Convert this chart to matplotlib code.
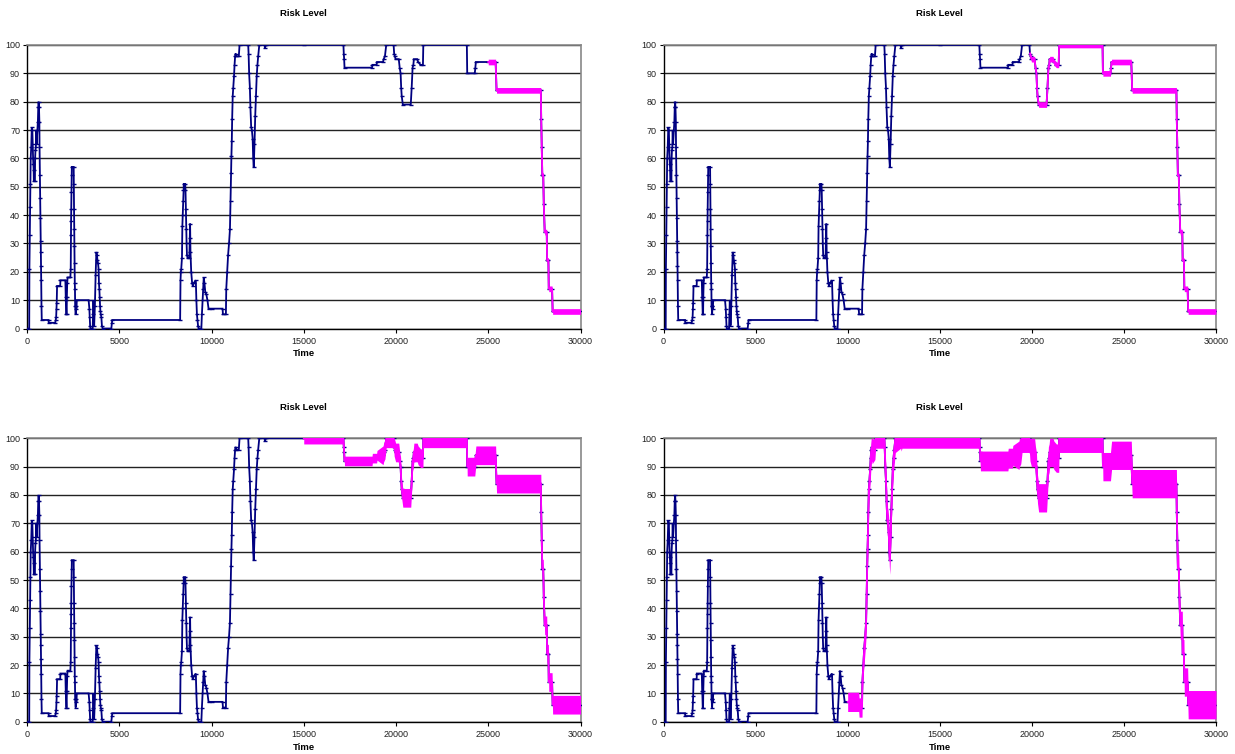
import numpy as np
import matplotlib
matplotlib.use("Agg")
import matplotlib.pyplot as plt

plt.rcParams['font.family'] = ['Liberation Sans', 'DejaVu Sans']

# ---------------- data ----------------
time = [0, 120, 130, 150, 165, 180, 200, 230, 260, 290, 310, 330, 345, 360, 370, 430, 440, 460, 480,
        500, 520, 560, 590, 610, 630, 650, 670, 680, 700, 715, 730, 740, 750, 760, 770, 785, 800,
        1170, 1180, 1530, 1560, 1580, 1600, 1610, 1630, 1800, 1810, 2080, 2100, 2110, 2130, 2150,
        2160, 2180, 2200, 2350, 2370, 2380, 2390, 2400, 2410, 2420, 2430, 2530, 2540, 2550, 2560,
        2570, 2580, 2590, 2600, 2610, 2640, 2660, 2680, 2700, 3340, 3380, 3400, 3420, 3440, 3560,
        3580, 3600, 3640, 3680, 3720, 3760, 3790, 3820, 3850, 3880, 3900, 3920, 3940, 3960, 3980,
        4000, 4030, 4060, 4100, 4570, 4600, 4620, 8300, 8320, 8340, 8360, 8400, 8420, 8440, 8460,
        8480, 8500, 8570, 8590, 8610, 8630, 8650, 8670, 8700, 8800, 8820, 8840, 8860, 8900, 8950,
        8990, 9030, 9150, 9180, 9210, 9240, 9270, 9300, 9450, 9480, 9520, 9550, 9580, 9620, 9660,
        9720, 9780, 9840, 10000, 10600, 10620, 10780, 10800, 10850, 10900, 10950, 11000, 11030,
        11060, 11080, 11100, 11120, 11150, 11180, 11220, 11250, 11280, 11310, 11330, 11480, 11520,
        11990, 12010, 12040, 12080, 12110, 12150, 12190, 12230, 12260, 12290, 12330, 12370, 12410,
        12450, 12490, 12530, 12590, 12880, 12900, 12950, 15000, 17150, 17170, 17190, 17210, 18700,
        18720, 18950, 18970, 19300, 19330, 19400, 19470, 19870, 19900, 19940, 19980, 20150, 20200,
        20250, 20280, 20310, 20370, 20800, 20850, 20900, 20940, 20970, 21150, 21200, 21330, 21460,
        21480, 23840, 23860, 24270, 24300, 24330, 25000, 25400, 25450, 27850, 27870, 27900, 27930,
        27980, 28010, 28060, 28170, 28190, 28260, 28280, 28460, 28490, 30000]
risk = [0, 0, 21, 33, 43, 51, 60, 64, 71, 70, 65, 60, 58, 56, 52, 52, 60, 63, 64,
        70, 65, 70, 73, 78, 80, 78, 73, 64, 54, 46, 39, 31, 27, 22, 17, 8, 3,
        3, 2, 2, 3, 4, 7, 9, 15, 15, 17, 17, 11, 10, 5, 5,
        11, 16, 18, 18, 21, 33, 38, 42, 48, 54, 57, 57, 51, 42, 35,
        29, 23, 16, 14, 8, 5, 8, 7, 10, 10, 7, 4, 1, 0, 0,
        5, 10, 1, 8, 19, 27, 26, 24, 23, 21, 16, 14, 11, 8, 6,
        5, 4, 1, 0, 0, 2, 3, 3, 17, 20, 21, 25, 36, 40, 45,
        49, 51, 51, 49, 42, 35, 30, 26, 25, 25, 32, 37, 27, 20, 16,
        15, 16, 17, 10, 5, 3, 1, 0, 0, 5, 10, 14, 18, 16, 13,
        12, 10, 7, 7, 7, 5, 5, 14, 20, 26, 30, 35, 45,
        55, 61, 66, 74, 82, 85, 89, 93, 96, 97, 96, 96, 100,
        100, 97, 90, 85, 78, 71, 70, 67, 60, 57, 65, 75, 82,
        89, 93, 96, 100, 100, 99, 100, 100, 100, 97, 95, 92, 92,
        93, 93, 94, 94, 95, 96, 100, 100, 97, 96, 95, 95, 92,
        90, 85, 82, 79, 79, 85, 92, 93, 95, 95, 94, 93, 93,
        100, 100, 90, 90, 92, 94, 94, 94, 84, 84, 74, 64, 54,
        54, 44, 34, 34, 24, 24, 14, 14, 6, 6]

panel_titles = ["Risk Level", "Risk Level", "Risk Level", "Risk Level"]
x_label = "Time"
x_ticks = [0, 5000, 10000, 15000, 20000, 25000, 30000]
y_ticks = [0, 10, 20, 30, 40, 50, 60, 70, 80, 90, 100]

# time from which each panel's series turns into the magenta oscillating band
magenta_start = [25000, 19900, 15000, 10000]
# half-width of the magenta oscillation, piecewise from given times
band_times = [[25000], [19900], [15000, 17200, 19300],
              [10000, 10900, 11450, 12000, 12600, 19000]]
band_half = [[1.0], [1.0], [2.0, 1.7, 3.3],
             [3.4, 5.0, 3.5, 5.0, 3.5, 5.0]]

# ---------------- drawing ----------------
W, H = 1235, 754
fig = plt.figure(figsize=(W / 100, H / 100), dpi=100)
fig.patch.set_facecolor("white")

cols = [(27, 580.5), (663.5, 1216)]
rows = [(45, 328.5), (438.3, 721.7)]

t = np.array(time, dtype=float)
r = np.array(risk, dtype=float)
NAVY = "#000080"
MAG = "#FF00FF"

for i in range(4):
    (x0, x1) = cols[i % 2]
    (y0, y1) = rows[i // 2]
    ax = fig.add_axes([x0 / W, 1 - y1 / H, (x1 - x0) / W, (y1 - y0) / H])
    ax.set_xlim(0, 30000)
    ax.set_ylim(0, 100)

    # base series
    ax.plot(t, r, color=NAVY, lw=1.3, marker="_", ms=3.2, mew=1.0, zorder=3,
            solid_joinstyle="miter")

    # magenta oscillating band
    m = t >= magenta_start[i]
    tm = t[m]
    rm = r[m]
    idx = np.searchsorted(band_times[i], tm, side="right") - 1
    idx = np.clip(idx, 0, None)
    a = np.array(band_half[i])[idx]
    lo = np.clip(rm - a, 0, 100)
    hi = np.clip(rm + a, 0, 100)
    ax.fill_between(tm, lo, hi, color=MAG, lw=0, zorder=4)
    ax.plot(tm, rm, color=MAG, lw=1.3, zorder=4)

    # grid & frame
    ax.set_yticks(y_ticks)
    ax.set_xticks(x_ticks)
    ax.yaxis.grid(True, color="#222222", lw=1.0, zorder=0)
    ax.set_axisbelow(True)
    for s in ["left", "bottom"]:
        ax.spines[s].set_color("black")
        ax.spines[s].set_linewidth(1.0)
    for s in ["top", "right"]:
        ax.spines[s].set_color("#888888")
        ax.spines[s].set_linewidth(1.2)
    ax.tick_params(axis="both", length=3, width=0.8, labelsize=6.5, pad=2,
                   colors="black", labelcolor="#222222")
    ax.tick_params(axis="x", pad=3)

    ax.text(0.5, 1 + 31 / (y1 - y0), panel_titles[i], transform=ax.transAxes,
            ha="center", va="center", fontsize=6.8, fontweight="bold")
    ax.set_xlabel(x_label, fontsize=6.8, fontweight="bold")
    ax.xaxis.set_label_coords(0.5, -21 / (y1 - y0))

fig.savefig("out.png", dpi=100, facecolor="white")
